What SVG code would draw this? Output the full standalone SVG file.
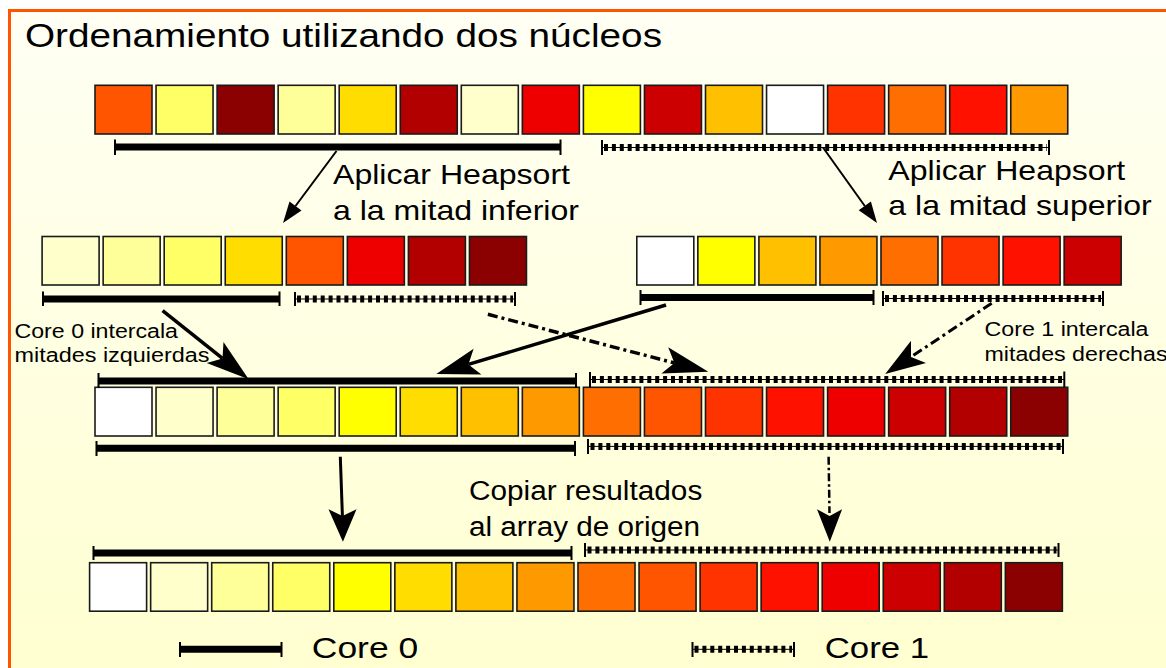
<svg xmlns="http://www.w3.org/2000/svg" width="1166" height="668" viewBox="0 0 1166 668">
<defs>
<linearGradient id="bg" x1="0" y1="0" x2="0" y2="1">
<stop offset="0" stop-color="#FFFFF4"/>
<stop offset="1" stop-color="#FFFFD0"/>
</linearGradient>
</defs>
<style>
.sq{stroke:#1a1a1a;stroke-width:1.6}
.sbar{stroke:#000;stroke-width:7;fill:none}
.dbar{stroke:#000;stroke-width:7;stroke-dasharray:4 3.9;fill:none}
.dthin{stroke:#000;stroke-width:1;fill:none}
.tick{stroke:#000;stroke-width:2;fill:none}
.t{font-family:"Liberation Sans",Arial,sans-serif;fill:#000}
.ln{stroke:#000;fill:none}
.dd{stroke-dasharray:10 4 3 4}
.head{fill:#000;stroke:none}
</style>
<rect x="0" y="0" width="1166" height="668" fill="#ffffff"/>
<rect x="9.5" y="10.5" width="1170" height="670" fill="url(#bg)" stroke="#FF5500" stroke-width="3"/>

<g id="title"><text class="t" x="25" y="47" font-size="32.5" textLength="637" lengthAdjust="spacingAndGlyphs">Ordenamiento utilizando dos núcleos</text></g>

<g id="row1" transform="translate(95,85.3)">
<rect class="sq" x="0" y="0" width="57" height="48.7" fill="#FF5500"/>
<rect class="sq" x="61.05" y="0" width="57" height="48.7" fill="#FFFF66"/>
<rect class="sq" x="122.1" y="0" width="57" height="48.7" fill="#8B0000"/>
<rect class="sq" x="183.15" y="0" width="57" height="48.7" fill="#FFFF99"/>
<rect class="sq" x="244.2" y="0" width="57" height="48.7" fill="#FFDD00"/>
<rect class="sq" x="305.25" y="0" width="57" height="48.7" fill="#B20000"/>
<rect class="sq" x="366.3" y="0" width="57" height="48.7" fill="#FFFFCC"/>
<rect class="sq" x="427.35" y="0" width="57" height="48.7" fill="#EE0000"/>
<rect class="sq" x="488.4" y="0" width="57" height="48.7" fill="#FFFF00"/>
<rect class="sq" x="549.45" y="0" width="57" height="48.7" fill="#CC0000"/>
<rect class="sq" x="610.5" y="0" width="57" height="48.7" fill="#FFC000"/>
<rect class="sq" x="671.55" y="0" width="57" height="48.7" fill="#FFFFFF"/>
<rect class="sq" x="732.6" y="0" width="57" height="48.7" fill="#FF3300"/>
<rect class="sq" x="793.65" y="0" width="57" height="48.7" fill="#FF6E00"/>
<rect class="sq" x="854.7" y="0" width="57" height="48.7" fill="#FF1100"/>
<rect class="sq" x="915.75" y="0" width="57" height="48.7" fill="#FF9900"/>
</g>

<g id="row2-left" transform="translate(42.1,236.5)">
<rect class="sq" x="0" y="0" width="57" height="48.5" fill="#FFFFCC"/>
<rect class="sq" x="61.05" y="0" width="57" height="48.5" fill="#FFFF99"/>
<rect class="sq" x="122.1" y="0" width="57" height="48.5" fill="#FFFF66"/>
<rect class="sq" x="183.15" y="0" width="57" height="48.5" fill="#FFDD00"/>
<rect class="sq" x="244.2" y="0" width="57" height="48.5" fill="#FF5500"/>
<rect class="sq" x="305.25" y="0" width="57" height="48.5" fill="#EE0000"/>
<rect class="sq" x="366.3" y="0" width="57" height="48.5" fill="#B20000"/>
<rect class="sq" x="427.35" y="0" width="57" height="48.5" fill="#8B0000"/>
</g>

<g id="row2-right" transform="translate(636.8,236.5)">
<rect class="sq" x="0" y="0" width="57" height="48.5" fill="#FFFFFF"/>
<rect class="sq" x="61.05" y="0" width="57" height="48.5" fill="#FFFF00"/>
<rect class="sq" x="122.1" y="0" width="57" height="48.5" fill="#FFC000"/>
<rect class="sq" x="183.15" y="0" width="57" height="48.5" fill="#FF9900"/>
<rect class="sq" x="244.2" y="0" width="57" height="48.5" fill="#FF6E00"/>
<rect class="sq" x="305.25" y="0" width="57" height="48.5" fill="#FF3300"/>
<rect class="sq" x="366.3" y="0" width="57" height="48.5" fill="#FF1100"/>
<rect class="sq" x="427.35" y="0" width="57" height="48.5" fill="#CC0000"/>
</g>

<g id="row3" transform="translate(95,387.3)">
<rect class="sq" x="0" y="0" width="57" height="48.7" fill="#FFFFFF"/>
<rect class="sq" x="61.05" y="0" width="57" height="48.7" fill="#FFFFCC"/>
<rect class="sq" x="122.1" y="0" width="57" height="48.7" fill="#FFFF99"/>
<rect class="sq" x="183.15" y="0" width="57" height="48.7" fill="#FFFF66"/>
<rect class="sq" x="244.2" y="0" width="57" height="48.7" fill="#FFFF00"/>
<rect class="sq" x="305.25" y="0" width="57" height="48.7" fill="#FFDD00"/>
<rect class="sq" x="366.3" y="0" width="57" height="48.7" fill="#FFC000"/>
<rect class="sq" x="427.35" y="0" width="57" height="48.7" fill="#FF9900"/>
<rect class="sq" x="488.4" y="0" width="57" height="48.7" fill="#FF6E00"/>
<rect class="sq" x="549.45" y="0" width="57" height="48.7" fill="#FF5500"/>
<rect class="sq" x="610.5" y="0" width="57" height="48.7" fill="#FF3300"/>
<rect class="sq" x="671.55" y="0" width="57" height="48.7" fill="#FF1100"/>
<rect class="sq" x="732.6" y="0" width="57" height="48.7" fill="#EE0000"/>
<rect class="sq" x="793.65" y="0" width="57" height="48.7" fill="#CC0000"/>
<rect class="sq" x="854.7" y="0" width="57" height="48.7" fill="#B20000"/>
<rect class="sq" x="915.75" y="0" width="57" height="48.7" fill="#8B0000"/>
</g>

<g id="row4" transform="translate(89.6,562.7)">
<rect class="sq" x="0" y="0" width="57" height="48.5" fill="#FFFFFF"/>
<rect class="sq" x="61.05" y="0" width="57" height="48.5" fill="#FFFFCC"/>
<rect class="sq" x="122.1" y="0" width="57" height="48.5" fill="#FFFF99"/>
<rect class="sq" x="183.15" y="0" width="57" height="48.5" fill="#FFFF66"/>
<rect class="sq" x="244.2" y="0" width="57" height="48.5" fill="#FFFF00"/>
<rect class="sq" x="305.25" y="0" width="57" height="48.5" fill="#FFDD00"/>
<rect class="sq" x="366.3" y="0" width="57" height="48.5" fill="#FFC000"/>
<rect class="sq" x="427.35" y="0" width="57" height="48.5" fill="#FF9900"/>
<rect class="sq" x="488.4" y="0" width="57" height="48.5" fill="#FF6E00"/>
<rect class="sq" x="549.45" y="0" width="57" height="48.5" fill="#FF5500"/>
<rect class="sq" x="610.5" y="0" width="57" height="48.5" fill="#FF3300"/>
<rect class="sq" x="671.55" y="0" width="57" height="48.5" fill="#FF1100"/>
<rect class="sq" x="732.6" y="0" width="57" height="48.5" fill="#EE0000"/>
<rect class="sq" x="793.65" y="0" width="57" height="48.5" fill="#CC0000"/>
<rect class="sq" x="854.7" y="0" width="57" height="48.5" fill="#B20000"/>
<rect class="sq" x="915.75" y="0" width="57" height="48.5" fill="#8B0000"/>
</g>

<g id="bars">
<!-- solid (Core 0) -->
<path class="sbar" d="M115 147H560.5 M43 299H279.5 M640.5 297.5H873.5 M98.5 381H576 M96.5 448.3H575 M93.5 553H571.5 M180 649.3H281.5"/>
<path class="tick" d="M115 139.5V155 M560.5 139.5V155 M43 291.5V306 M279.5 291.5V306 M640.5 290V305 M873.5 290V305 M98.5 373V388 M576 373V388 M96.5 441V456 M575 441V456 M93.5 546V560 M571.5 546V560 M180 642V657 M281.5 642V657"/>
<!-- dashed (Core 1) -->
<path class="dbar" d="M604 147.5H1047 M297 299H513 M885 298.5H1101 M592 379.5H1062 M590.5 446.4H1061 M587.5 550H1056.5 M694.5 649.3H792"/>
<path class="dthin" d="M602 147.5H1049 M295 299H515 M883 298.5H1103 M590 379.5H1064 M588 446.4H1063 M585 550H1058.5 M692.5 649.3H794"/>
<path class="tick" d="M602 140V155 M1049 140V155 M295 292V306 M515 292V306 M883 291V306 M1103 291V306 M590 372V387 M1064.3 371.5V387 M588 439V454 M1063 439V454 M585 543V557 M1058.5 543V557 M692.5 642V657 M794 642V657"/>
</g>

<g id="labels">
<text class="t" x="333" y="184" font-size="28.5" textLength="237" lengthAdjust="spacingAndGlyphs">Aplicar Heapsort</text>
<text class="t" x="333" y="220" font-size="28.5" textLength="246" lengthAdjust="spacingAndGlyphs">a la mitad inferior</text>
<text class="t" x="888.3" y="180" font-size="28.5" textLength="237" lengthAdjust="spacingAndGlyphs">Aplicar Heapsort</text>
<text class="t" x="888.3" y="215" font-size="28.5" textLength="263.5" lengthAdjust="spacingAndGlyphs">a la mitad superior</text>
<text class="t" x="14.5" y="337.5" font-size="20" textLength="163.5" lengthAdjust="spacingAndGlyphs">Core 0 intercala</text>
<text class="t" x="14.5" y="361.5" font-size="20" textLength="195" lengthAdjust="spacingAndGlyphs">mitades izquierdas</text>
<text class="t" x="984.5" y="336" font-size="20" textLength="164" lengthAdjust="spacingAndGlyphs">Core 1 intercala</text>
<text class="t" x="984.5" y="360.5" font-size="20" textLength="183" lengthAdjust="spacingAndGlyphs">mitades derechas</text>
<text class="t" x="469" y="500" font-size="27" textLength="233.3" lengthAdjust="spacingAndGlyphs">Copiar resultados</text>
<text class="t" x="469" y="536" font-size="27" textLength="231" lengthAdjust="spacingAndGlyphs">al array de origen</text>
</g>

<g id="legend">
<text class="t" x="311.8" y="658.3" font-size="30" textLength="106.4" lengthAdjust="spacingAndGlyphs">Core 0</text>
<text class="t" x="824.7" y="657.5" font-size="30" textLength="104.4" lengthAdjust="spacingAndGlyphs">Core 1</text>
</g>

<g id="connectors">
<path class="ln" stroke-width="2" d="M336.5 151L295.5 206"/>
<path class="head" d="M283 223L289.5 201.6L301.5 210.6Z"/>
<path class="ln" stroke-width="2" d="M823 147.5L864.8 206"/>
<path class="head" d="M877 223L858.7 210.3L870.9 201.5Z"/>

<path class="ln" stroke-width="3.5" d="M162.6 310.7L222.5 358.4"/>
<path class="head" d="M248.7 379.3L206.7 363.1L222.5 358.4L223.5 341.9Z"/>
<path class="ln" stroke-width="3.5" d="M666 305L468.4 364.4"/>
<path class="head" d="M436.3 374L473.6 348.7L468.4 364.4L481.4 374.5Z"/>

<path class="ln dd" stroke-width="3.5" d="M487.9 314.3L674.4 362.9"/>
<path class="head" d="M708.3 371.7L668.2 347.3L674.4 362.9L661.4 373.5Z"/>
<path class="ln dd" stroke-width="3" d="M991.7 303.3L911 356.9"/>
<path class="head" d="M885.2 374L911 340.7L911 356.9L926 363.1Z"/>

<path class="ln" stroke-width="3" d="M340.3 456.7L342.4 516"/>
<path class="head" d="M342.9 541.7L328.5 509.3L342.5 516L356.5 509.3Z"/>
<path class="ln" stroke-width="2.5" stroke-dasharray="8 3 2.5 3" d="M828.6 456.7L829.5 513"/>
<path class="head" d="M829.8 541.7L817 509.3L829.6 516L842.1 509.3Z"/>
</g>
</svg>
